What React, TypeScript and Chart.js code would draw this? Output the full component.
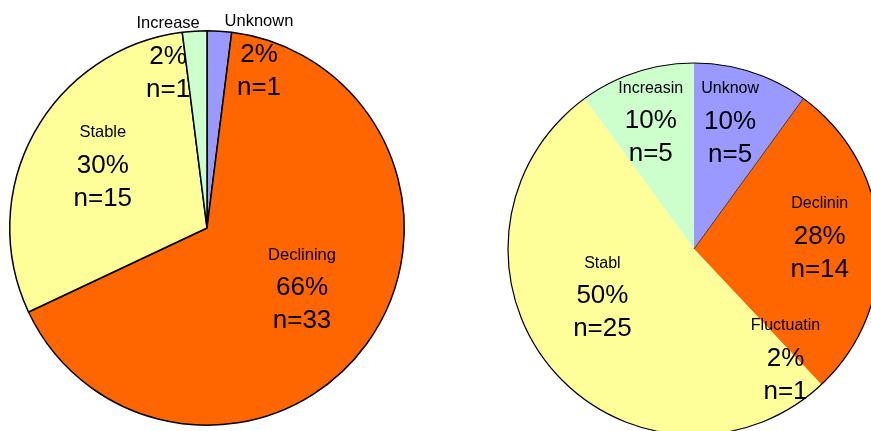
import { useEffect, useRef } from "react";
import { Chart, registerables } from "chart.js";

Chart.register(...registerables);

// ---- data ----
const leftCategories = ["Unknown", "Declining", "Stable", "Increase"];
const leftValues = [1, 33, 15, 1];
const leftColors = ["#9999FF", "#FF6600", "#FFFF99", "#CCFFCC"];

const rightCategories = ["Unknow", "Declinin", "Fluctuatin", "Stabl", "Increasin"];
const rightValues = [5, 14, 1, 25, 5];
const rightColors = ["#9999FF", "#FF6600", "#FFFF99", "#FFFF99", "#CCFFCC"];

// label placement: [angle clockwise from top (deg), fraction of radius]
const leftLabelPos: [number, number][] = [
  [16.7, 0.917],
  [122.3, 0.57],
  [300.8, 0.615],
  [347.2, 0.89],
];
const rightLabelPos: [number, number][] = [
  [15.8, 0.713],
  [84.5, 0.679],
  [140.1, 0.767],
  [242.7, 0.554],
  [341.3, 0.725],
];

const FONT = '"Liberation Sans", Arial, Helvetica, sans-serif';

function labelPlugin(names: string[], pos: [number, number][], nameSize: number) {
  return {
    id: "sliceLabels",
    afterDraw(chart: any) {
      const meta = chart.getDatasetMeta(0);
      const data = chart.data.datasets[0].data as number[];
      const total = data.reduce((a, b) => a + b, 0);
      const ctx = chart.ctx as CanvasRenderingContext2D;
      ctx.save();
      ctx.textAlign = "center";
      ctx.textBaseline = "middle";
      ctx.fillStyle = "#000";
      meta.data.forEach((arc: any, i: number) => {
        const { x, y, outerRadius } = arc.getProps(["x", "y", "outerRadius"], true);
        const [deg, frac] = pos[i];
        const a = ((deg - 90) * Math.PI) / 180;
        const cx = x + Math.cos(a) * frac * outerRadius;
        const cy = y + Math.sin(a) * frac * outerRadius;
        ctx.font = `${nameSize}px ${FONT}`;
        ctx.fillText(names[i], cx, cy - 33);
        ctx.font = `26px ${FONT}`;
        ctx.fillText(Math.round((data[i] / total) * 100) + "%", cx, cy);
        ctx.fillText("n=" + data[i], cx, cy + 33);
      });
      ctx.restore();
    },
  };
}

const outlinePlugin = {
  id: "outline",
  afterDatasetsDraw(chart: any) {
    const meta = chart.getDatasetMeta(0);
    const first = meta.data[0];
    if (!first) return;
    const { x, y, outerRadius, endAngle } = first.getProps(
      ["x", "y", "outerRadius", "endAngle"],
      true
    );
    const ctx = chart.ctx as CanvasRenderingContext2D;
    ctx.save();
    ctx.strokeStyle = "#222";
    ctx.lineWidth = 0.8;
    ctx.beginPath();
    ctx.moveTo(x, y);
    ctx.lineTo(x + Math.cos(endAngle) * outerRadius, y + Math.sin(endAngle) * outerRadius);
    ctx.stroke();
    ctx.strokeStyle = "#000";
    ctx.lineWidth = 1.2;
    ctx.beginPath();
    ctx.arc(x, y, outerRadius, 0, Math.PI * 2);
    ctx.stroke();
    ctx.restore();
  },
};

function PieCanvas(props: {
  width: number;
  height: number;
  left: number;
  top: number;
  padding: { left: number; top: number; right: number; bottom: number };
  labels: string[];
  values: number[];
  colors: string[];
  borderWidth: number;
  plugins: any[];
}) {
  const ref = useRef<HTMLCanvasElement | null>(null);
  useEffect(() => {
    if (!ref.current) return;
    const chart = new Chart(ref.current, {
      type: "pie",
      data: {
        labels: props.labels,
        datasets: [
          {
            data: props.values,
            backgroundColor: props.colors,
            borderColor: "#000",
            borderWidth: props.borderWidth,
          },
        ],
      },
      options: {
        animation: false,
        responsive: false,
        layout: { padding: props.padding },
        plugins: {
          legend: { display: false },
          tooltip: { enabled: false },
        },
      },
      plugins: props.plugins,
    });
    return () => chart.destroy();
  }, []);
  return (
    <canvas
      ref={ref}
      width={props.width}
      height={props.height}
      style={{
        position: "absolute",
        left: props.left,
        top: props.top,
        width: props.width,
        height: props.height,
      }}
    />
  );
}

export default function App() {
  return (
    <div
      style={{
        position: "fixed",
        left: 0,
        top: 0,
        width: "100vw",
        height: "100vh",
        overflow: "hidden",
        background: "#fff",
      }}
    >
      <PieCanvas
        width={440}
        height={431}
        left={0}
        top={0}
        padding={{ left: 9, top: 30, right: 35, bottom: 5 }}
        labels={leftCategories}
        values={leftValues}
        colors={leftColors}
        borderWidth={1.5}
        plugins={[labelPlugin(leftCategories, leftLabelPos, 16.5)]}
      />
      <PieCanvas
        width={440}
        height={440}
        left={440}
        top={0}
        padding={{ left: 68, top: 63, right: 0, bottom: 5 }}
        labels={rightCategories}
        values={rightValues}
        colors={rightColors}
        borderWidth={0}
        plugins={[outlinePlugin, labelPlugin(rightCategories, rightLabelPos, 16)]}
      />
    </div>
  );
}
